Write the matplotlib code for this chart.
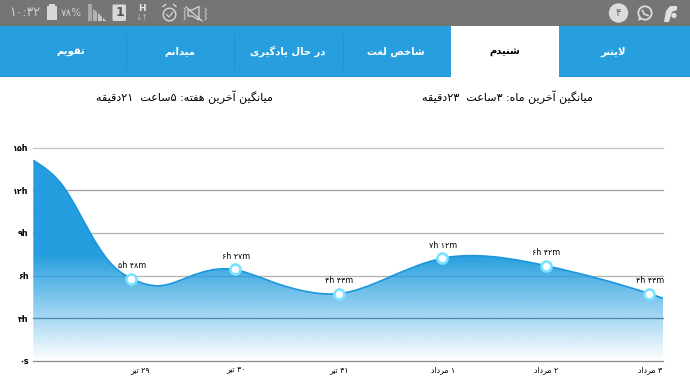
import re

import matplotlib
matplotlib.use("Agg")
import matplotlib.pyplot as plt
import numpy as np
from matplotlib.colors import to_rgb
from matplotlib.patches import Circle, FancyBboxPatch, PathPatch, Polygon, Rectangle
from matplotlib.path import Path

tab_labels = ["تقویم", "میدانم", "در حال یادگیری", "شاخص لغت", "شنیدم", "لایتنر"]
week_title = "میانگین آخرین هفته: ۵ساعت  ۲۱دقیقه"
month_title = "میانگین آخرین ماه: ۳ساعت  ۲۳دقیقه"
y_values = [0, 3, 6, 9, 12, 15]
y_labels = ["۰s", "۳h", "۶h", "۹h", "۱۲h", "۱۵h"]
grid_colors = ["#8f8f8f", "#6b7f8c", "#b4b4b4", "#b0b0b0", "#a4a4a4", "#c6c6c6"]
day_labels = ["۲۹ تیر", "۳۰ تیر", "۳۱ تیر", "۱ مرداد", "۲ مرداد", "۳ مرداد"]
label_shift = [9, 1, 0, 1, 0, 1]
point_pos = [0, 1, 2, 3, 4, 5]
point_hours = [5.78, 6.43, 4.72, 7.21, 6.69, 4.72]
point_labels = ["۵h ۴۸m", "۶h ۲۷m", "۴h ۴۳m", "۷h ۱۲m", "۶h ۴۲m", "۴h ۴۳m"]

# line, the app smooths it between the days
curve_pos = [-0.948, -0.658, -0.369, -0.176, 0, 0.275, 0.56, 0.92, 1.37, 1.756, 2, 2.448, 3, 3.285, 4, 5, 5.135]
curve_hours = [14.11, 12.26, 8.62, 6.67, 5.78, 5.28, 5.92, 6.47, 5.52, 4.79, 4.72, 5.75, 7.21, 7.40, 6.69, 4.72, 4.39]

BLUE = "#279fde"
W, H = 690, 388

# matplotlib has no Arabic shaping: isolated, final, initial, medial
FORMS = {
    "ا": (0xFE8D, 0xFE8E), "آ": (0xFE81, 0xFE82), "د": (0xFEA9, 0xFEAA), "ر": (0xFEAD, 0xFEAE),
    "و": (0xFEED, 0xFEEE),
    "ت": (0xFE95, 0xFE96, 0xFE97, 0xFE98), "ن": (0xFEE5, 0xFEE6, 0xFEE7, 0xFEE8),
    "ش": (0xFEB5, 0xFEB6, 0xFEB7, 0xFEB8), "ی": (0xFBFC, 0xFBFD, 0xFBFE, 0xFBFF),
    "م": (0xFEE1, 0xFEE2, 0xFEE3, 0xFEE4), "خ": (0xFEA5, 0xFEA6, 0xFEA7, 0xFEA8),
    "ص": (0xFEB9, 0xFEBA, 0xFEBB, 0xFEBC), "ل": (0xFEDD, 0xFEDE, 0xFEDF, 0xFEE0),
    "غ": (0xFECD, 0xFECE, 0xFECF, 0xFED0), "ف": (0xFED1, 0xFED2, 0xFED3, 0xFED4),
    "ح": (0xFEA1, 0xFEA2, 0xFEA3, 0xFEA4), "گ": (0xFB92, 0xFB93, 0xFB94, 0xFB95),
    "ق": (0xFED5, 0xFED6, 0xFED7, 0xFED8), "ه": (0xFEE9, 0xFEEA, 0xFEEB, 0xFEEC),
    "س": (0xFEB1, 0xFEB2, 0xFEB3, 0xFEB4), "ع": (0xFEC9, 0xFECA, 0xFECB, 0xFECC),
}


def shape(text):
    out = []
    i = 0
    while i < len(text):
        ch = text[i]
        if ch not in FORMS:
            out.append(ch)
            i += 1
            continue
        prev = text[i - 1] if i else ""
        joins_prev = prev in FORMS and len(FORMS[prev]) == 4
        if ch == "ل" and text[i + 1:i + 2] == "ا":
            out.append(chr(0xFEFC if joins_prev else 0xFEFB))
            i += 2
            continue
        nxt = text[i + 1] if i + 1 < len(text) else ""
        forms = FORMS[ch]
        joins_next = len(forms) == 4 and nxt in FORMS
        if joins_prev and joins_next:
            out.append(chr(forms[3]))
        elif joins_prev:
            out.append(chr(forms[1]))
        elif joins_next:
            out.append(chr(forms[2]))
        else:
            out.append(chr(forms[0]))
        i += 1
    # visual order, digit runs stay left to right
    parts = re.findall(r"[۰-۹]+|.", "".join(out))
    return "".join(reversed(parts))


def smooth_path(xs, ys):
    # natural cubic spline written as bezier segments
    x = np.array(xs)
    y = np.array(ys)
    h = np.diff(x)
    n = len(x)
    A = np.zeros((n, n))
    b = np.zeros(n)
    A[0, 0] = A[-1, -1] = 1
    for i in range(1, n - 1):
        A[i, i - 1] = h[i - 1]
        A[i, i] = 2 * (h[i - 1] + h[i])
        A[i, i + 1] = h[i]
        b[i] = 6 * ((y[i + 1] - y[i]) / h[i] - (y[i] - y[i - 1]) / h[i - 1])
    m = np.linalg.solve(A, b)
    verts = [(x[0], y[0])]
    codes = [Path.MOVETO]
    for i in range(n - 1):
        slope = (y[i + 1] - y[i]) / h[i]
        s0 = slope - h[i] * (2 * m[i] + m[i + 1]) / 6
        s1 = slope + h[i] * (m[i] + 2 * m[i + 1]) / 6
        verts.append((x[i] + h[i] / 3, y[i] + s0 * h[i] / 3))
        verts.append((x[i + 1] - h[i] / 3, y[i + 1] - s1 * h[i] / 3))
        verts.append((x[i + 1], y[i + 1]))
        codes += [Path.CURVE4] * 3
    return verts, codes


fig = plt.figure(figsize=(W / 100, H / 100), dpi=100, facecolor="white")

# screen chrome in pixel coordinates
ui = fig.add_axes([0, 0, 1, 1])
ui.set_xlim(0, W)
ui.set_ylim(H, 0)
ui.axis("off")
ui.add_patch(Rectangle((0, 0), W, 26, color="#757575", lw=0))
ui.add_patch(Rectangle((0, 26), W, 51, color=BLUE, lw=0))
ui.add_patch(Rectangle((0, 76), W, 1.2, color="#1f96d8", lw=0))
ui.add_patch(Rectangle((451, 26), 108, 52, color="white", lw=0))
for x in [125.5, 233.7, 342.5]:
    ui.plot([x, x], [34, 69], color="#1f94d4", lw=0.7)
for i, label in enumerate(tab_labels):
    ui.text(71 + i * 108.4, 55, shape(label), color="black" if i == 4 else "white", fontsize=7.2,
            fontweight="bold", ha="center", va="baseline")
ui.text(184, 101.5, shape(week_title), fontsize=8, ha="center", va="baseline", color="#000000")
ui.text(507, 101.5, shape(month_title), fontsize=8, ha="center", va="baseline", color="#000000")

# status bar icons
ICON = "#cfcfcf"
ui.text(24.5, 13, "۱۰:۳۲", color=ICON, fontsize=9, ha="center", va="center")
ui.add_patch(Rectangle((46.5, 6), 10.5, 14, color="#d8d8d8", lw=0))
ui.add_patch(Rectangle((49, 4), 5.5, 2, color="#d8d8d8", lw=0))
ui.text(71, 13.5, "۷۸%", color=ICON, fontsize=7.5, ha="center", va="center")
ui.add_patch(Polygon([(88, 4), (92, 4), (92, 21), (88, 21)], color="#a8a8a8", lw=0))
ui.add_patch(Polygon([(93, 9), (97, 12), (97, 21), (93, 21)], color="#b4b4b4", lw=0))
ui.add_patch(Polygon([(98, 13), (102, 17), (102, 21), (98, 21)], color="#c8c8c8", lw=0))
ui.add_patch(Polygon([(103, 18), (106, 21), (103, 21)], color="#dddddd", lw=0))
ui.add_patch(FancyBboxPatch((113, 5), 12.5, 15.5, boxstyle="round,pad=0.5,rounding_size=1.5", color="#d8d8d8", lw=0))
ui.text(119.5, 13, "1", color="#555555", fontsize=9, fontweight="bold", ha="center", va="center")
ui.text(142, 8.5, "H", color="#e8e8e8", fontsize=6.5, fontweight="bold", ha="center", va="center")
ui.text(142, 18, "↓↑", color="#a8a8a8", fontsize=5.5, fontweight="bold", ha="center", va="center")
ui.add_patch(Circle((169.5, 14.5), 6.3, fill=False, ec="#d8d8d8", lw=1))
ui.plot([166.5, 169, 173], [14.5, 17, 12], color="#d8d8d8", lw=0.8)
ui.plot([163, 165.5], [6.5, 4.5], color="#d8d8d8", lw=1)
ui.plot([173.5, 176], [4.5, 6.5], color="#d8d8d8", lw=1)
ui.add_patch(Polygon([(188, 10), (192, 10), (199, 6.5), (199, 20), (192, 16), (188, 16)], fill=False, ec="#d8d8d8", lw=0.9))
ui.plot([186, 202], [7, 21], color="#d8d8d8", lw=0.9)
ui.plot([184, 185.5, 184, 185.5, 184, 185.5, 184], [8, 10, 12, 14, 16, 18, 20], color="#c8c8c8", lw=0.7)
ui.plot([205, 206.5, 205, 206.5, 205, 206.5, 205], [8, 10, 12, 14, 16, 18, 20], color="#c8c8c8", lw=0.7)
ui.add_patch(Circle((618.5, 13), 9.7, color="#dcdcdc", lw=0))
ui.text(618.5, 13, "۴", color="#666666", fontsize=7.5, ha="center", va="center")
ui.add_patch(Circle((645, 13), 6.7, fill=False, ec="#dddddd", lw=1.3))
ui.add_patch(Polygon([(638, 21), (639.5, 16), (642, 19)], color="#dddddd", lw=0))
ui.plot([642.5, 644, 648], [10.5, 14, 15.5], color="#dddddd", lw=1.2)
ui.add_patch(Polygon([(664, 22), (666, 11), (670, 6), (677, 6), (677, 10), (672, 12), (669, 22)], color="#e0e0e0", lw=0))
ui.add_patch(Circle((674, 15.5), 2.6, color="#e0e0e0", lw=0))

# chart area, y runs 360.7px to 147.7px
ax = fig.add_axes([33 / W, 1 - 360.7 / H, 630 / W, 213 / H])
ax.patch.set_alpha(0)
for side in ax.spines.values():
    side.set_visible(False)
ax.set_yticks(y_values)
ax.set_yticklabels(y_labels, fontsize=5.8, color="#000000", fontweight="bold")
ax.set_xticks([])
ax.tick_params(axis="y", length=0, pad=3)
for value, color in zip(y_values, grid_colors):
    ax.axhline(value, color=color, lw=0.95, zorder=1, clip_on=False)

verts, codes = smooth_path(curve_pos, curve_hours)
area = Path(verts + [(curve_pos[-1], 0), (curve_pos[0], 0), (curve_pos[0], curve_hours[0])],
            codes + [Path.LINETO, Path.LINETO, Path.CLOSEPOLY])
clip = PathPatch(area, transform=ax.transData, fc="none", ec="none")
ax.add_patch(clip)
fade = np.ones((256, 1, 4))
fade[:, :, :3] = to_rgb("#249edf")
fade[:, 0, 3] = np.clip(np.linspace(15, 0, 256) / 7.5, 0, 1)
img = ax.imshow(fade, extent=(curve_pos[0], curve_pos[-1], 0, 15), aspect="auto", zorder=2,
                interpolation="bilinear")
img.set_clip_path(clip)
ax.set_xlim(-0.951, 5.132)
ax.set_ylim(0, 15)
ax.add_patch(PathPatch(Path(verts, codes), fc="none", ec="#1c97dc", lw=1.2, zorder=3))

ax.plot(point_pos, point_hours, ls="none", marker="o", ms=7.2, mfc="white", mec="#7be3ff", mew=1.9, zorder=4)
for pos, hours, text in zip(point_pos, point_hours, point_labels):
    ax.annotate(text, (pos, hours), xytext=(0.5, 9.5), textcoords="offset points",
                fontsize=5.8, ha="center", va="center", color="#000000", zorder=5)
for pos, text, shift in zip(point_pos, day_labels, label_shift):
    ax.annotate(shape(text), (pos, 0), xytext=(shift * 0.72, -6.5), textcoords="offset points",
                fontsize=5.6, ha="center", va="center", color="#000000", annotation_clip=False)

fig.savefig("out.png", dpi=100)
plt.close(fig)
